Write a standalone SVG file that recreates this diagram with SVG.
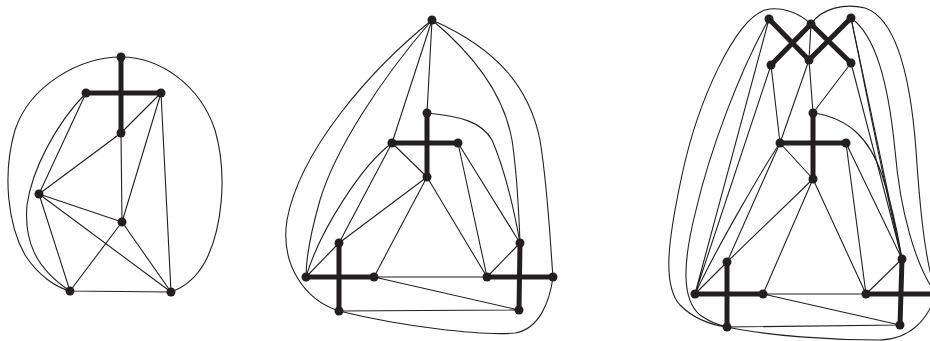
<svg xmlns="http://www.w3.org/2000/svg" width="930" height="341" viewBox="0 0 930 341">
<style>
.e{fill:none;stroke:#231f20;stroke-width:1.1}
.t{fill:none;stroke:#231f20;stroke-width:5;stroke-linecap:butt}
.n{fill:#231f20}
</style>
<rect width="930" height="341" fill="#fff"/>
<g id="connectors">
<!-- left graph -->
<path class="e" d="M121,57 C 80,57 30,85 15,130 C 2,175 8,225 25,255 C 38,275 55,287 70,291"/>
<path class="e" d="M121,57 C 160,57 200,85 215,130 C 228,175 222,230 205,262 C 195,280 182,288 171,292"/>
<path class="e" d="M86,93 C 55,125 32,170 27,205 C 24,240 35,268 70,291"/>
<path class="e" d="M86,93 L39,194 M161,93 L121,133 L39,194 M161,93 L122,222 M161,93 L171,292 M121,133 L122,222 M39,194 L122,222 M39,194 L70,291 M39,194 L171,292 M122,222 L70,291 M122,222 L171,292 M70,291 L171,292"/>
<path class="t" d="M121,57 L121,133 M86,93 L161,93"/>
<!-- middle graph -->
<path class="e" d="M432,20 C 370,70 300,150 287,220 C 280,265 305,300 339,311"/>
<path class="e" d="M339,311 C 400,326 480,336 515,333 C 540,329 550,300 553,277"/>
<path class="e" d="M432,20 C 500,50 530,90 540,140 C 548,190 550,240 553,277"/>
<path class="e" d="M432,20 C 480,60 505,100 512,140 C 518,180 519,220 520,243"/>
<path class="e" d="M427,113 C 460,116 482,122 492,140 C 505,170 515,215 520,243"/>
<path class="e" d="M432,20 C 380,80 335,150 320,200 C 310,235 306,260 306,277"/>
<path class="e" d="M392,143 C 362,165 320,230 306,277"/>
<path class="e" d="M432,20 L427,113 M432,20 L392,143 M392,143 L339,243 M392,143 L427,177 M458,143 L487,277 M458,143 L520,243 M427,177 L339,243 M427,177 L374,277 M427,177 L487,277 M306,277 L339,243 M487,277 L520,243 M374,277 L487,277 M374,277 L519,310 M339,311 L519,310"/>
<path class="t" d="M427,113 L427,177 M392,143 L458,143 M339,243 L339,311 M306,277 L374,277 M520,243 L519,310 M487,277 L553,277"/>
<!-- right graph -->
<path class="e" d="M811,24 C 798,12 780,6 765,10 C 735,20 698,100 682,175 C 668,240 662,285 680,305 C 695,320 712,325 727,327"/>
<path class="e" d="M769,19 C 740,70 710,150 696,210 C 682,265 682,300 700,315 C 710,322 718,325 727,327"/>
<path class="e" d="M811,24 C 822,8 845,3 865,8 C 895,18 910,70 916,150 C 920,210 925,260 936,294"/>
<path class="e" d="M851,18 C 875,35 888,80 895,150 C 900,210 915,265 936,294"/>
<path class="e" d="M727,327 C 770,336 830,340 880,340 C 910,339 928,320 936,294"/>
<path class="e" d="M813,113 C 850,118 870,140 882,175 C 892,205 898,235 902,259"/>
<path class="e" d="M780,143 C 765,165 718,245 695,294"/>
<path class="e" d="M851,18 C 868,100 885,190 902,259"/>
<path class="e" d="M811,24 L809,60 M771,65 L780,143 M809,60 L780,143 M809,60 L813,113 M851,63 L813,113 M769,19 L695,294 M771,65 L695,294 M851,63 L902,259 M851,18 L902,259 M780,143 L813,179 M780,143 L727,262 M813,179 L727,262 M813,179 L763,294 M813,179 L866,294 M846,143 L866,294 M846,143 L902,259 M695,294 L727,262 M866,294 L902,259 M763,294 L866,294 M763,294 L900,325 M727,327 L900,325"/>
<path class="t" d="M769,19 L809,60 M811,24 L771,65 M811,24 L851,63 M851,18 L809,60 M813,113 L813,179 M780,143 L846,143 M727,262 L727,327 M695,294 L763,294 M902,259 L900,325 M866,294 L936,294"/>
</g>
<g id="left-graph">
<circle id="l1" class="n" cx="121" cy="57" r="4.5"/>
<circle id="l2" class="n" cx="86" cy="93" r="4.5"/>
<circle id="l3" class="n" cx="161" cy="93" r="4.5"/>
<circle id="l4" class="n" cx="121" cy="133" r="4.5"/>
<circle id="l5" class="n" cx="39" cy="194" r="4.5"/>
<circle id="l6" class="n" cx="122" cy="222" r="4.5"/>
<circle id="l7" class="n" cx="70" cy="291" r="4.5"/>
<circle id="l8" class="n" cx="171" cy="292" r="4.5"/>
</g>
<g id="middle-graph">
<circle id="m-top" class="n" cx="432" cy="20" r="4.5"/>
<circle id="m-ct" class="n" cx="427" cy="113" r="4.5"/>
<circle id="m-cl" class="n" cx="392" cy="143" r="4.5"/>
<circle id="m-cr" class="n" cx="458" cy="143" r="4.5"/>
<circle id="m-cb" class="n" cx="427" cy="177" r="4.5"/>
<circle id="m-lt" class="n" cx="339" cy="243" r="4.5"/>
<circle id="m-ll" class="n" cx="306" cy="277" r="4.5"/>
<circle id="m-lr" class="n" cx="374" cy="277" r="4.5"/>
<circle id="m-lb" class="n" cx="339" cy="311" r="4.5"/>
<circle id="m-rt" class="n" cx="520" cy="243" r="4.5"/>
<circle id="m-rl" class="n" cx="487" cy="277" r="4.5"/>
<circle id="m-rr" class="n" cx="553" cy="277" r="4.5"/>
<circle id="m-rb" class="n" cx="519" cy="310" r="4.5"/>
</g>
<g id="right-graph">
<circle id="r-tl" class="n" cx="769" cy="19" r="4.5"/>
<circle id="r-tm" class="n" cx="811" cy="24" r="4.5"/>
<circle id="r-tr" class="n" cx="851" cy="18" r="4.5"/>
<circle id="r-bl" class="n" cx="771" cy="65" r="4.5"/>
<circle id="r-bm" class="n" cx="809" cy="60" r="4.5"/>
<circle id="r-br" class="n" cx="851" cy="63" r="4.5"/>
<circle id="r-ct" class="n" cx="813" cy="113" r="4.5"/>
<circle id="r-cl" class="n" cx="780" cy="143" r="4.5"/>
<circle id="r-cr" class="n" cx="846" cy="143" r="4.5"/>
<circle id="r-cb" class="n" cx="813" cy="179" r="4.5"/>
<circle id="r-lt" class="n" cx="727" cy="262" r="4.5"/>
<circle id="r-ll" class="n" cx="695" cy="294" r="4.5"/>
<circle id="r-lr" class="n" cx="763" cy="294" r="4.5"/>
<circle id="r-lb" class="n" cx="727" cy="327" r="4.5"/>
<circle id="r-rt" class="n" cx="902" cy="259" r="4.5"/>
<circle id="r-rl" class="n" cx="866" cy="294" r="4.5"/>
<circle id="r-rr" class="n" cx="936" cy="294" r="4.5"/>
<circle id="r-rb" class="n" cx="900" cy="325" r="4.5"/>
</g>
</svg>
